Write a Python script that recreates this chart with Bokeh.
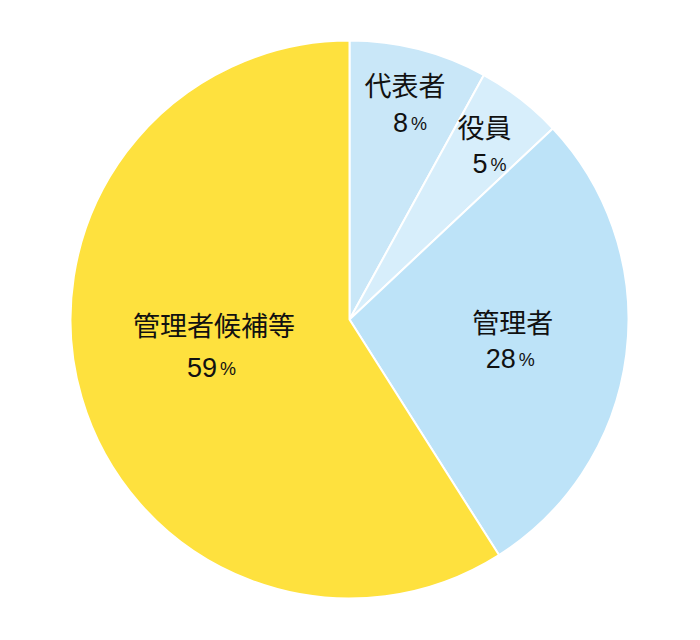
import math
from bokeh.plotting import figure
from bokeh.models import ColumnDataSource, Range1d
from bokeh.core.properties import value
from bokeh.embed import file_html
from bokeh.resources import INLINE

# ---- data ----
categories = ["代表者", "役員", "管理者", "管理者候補等"]
shares = [8, 5, 28, 59]
colors = ["#c9e7f8", "#d7eefb", "#bde3f8", "#fee13e"]

# ---- label styling ----
label_radius = [0.80, 0.79, 0.59, 0.495]   # fraction of radius
label_angle_shift = [0, 0, 0, -5]           # degrees
line_gap = [38, 37, 37, 43]                 # px between name and number lines

W, H = 684, 624
cx, cy, R = 349, 305, 279

total = sum(shares)
starts, ends = [], []
a = math.pi / 2
for s in shares:
    sweep = 2 * math.pi * s / total
    starts.append(a - sweep)
    ends.append(a)
    a -= sweep

src = ColumnDataSource(dict(start=starts, end=ends, color=colors))

p = figure(width=W, height=H, output_backend="svg", toolbar_location=None,
           x_range=Range1d(0, W), y_range=Range1d(0, H), min_border=0)
p.axis.visible = False
p.grid.visible = False
p.outline_line_color = None
p.background_fill_color = "white"

p.wedge(x=cx, y=cy, radius=R, start_angle="start", end_angle="end",
        fill_color="color", line_color="white", line_width=2, source=src)

lx, ly, nums, numx, numy = [], [], [], [], []
for i, (s, e) in enumerate(zip(starts, ends)):
    mid = (s + e) / 2 + math.radians(label_angle_shift[i])
    r = R * label_radius[i]
    x = cx + r * math.cos(mid)
    y = cy + r * math.sin(mid)
    g = line_gap[i] / 2
    lx.append(x)
    ly.append(y + g)
    nums.append(str(shares[i]))
    numx.append(x)
    numy.append(y - g)

p.text(x=lx, y=ly, text=categories, text_align="center", text_baseline="middle",
       text_font=value("Noto Sans CJK JP"), text_font_size="27px", text_color="#111111")
p.text(x=[v + 3 for v in numx], y=numy, text=nums, text_align="right", text_baseline="middle",
       text_font=value("Liberation Sans"), text_font_size="27px", text_color="#111111")
p.text(x=[v + 6 for v in numx], y=[v - 1.5 for v in numy], text=["%"] * len(nums), text_align="left",
       text_baseline="middle", text_font=value("Liberation Sans"),
       text_font_size="18px", text_color="#111111")

open("out.html", "w").write(file_html(p, INLINE))
